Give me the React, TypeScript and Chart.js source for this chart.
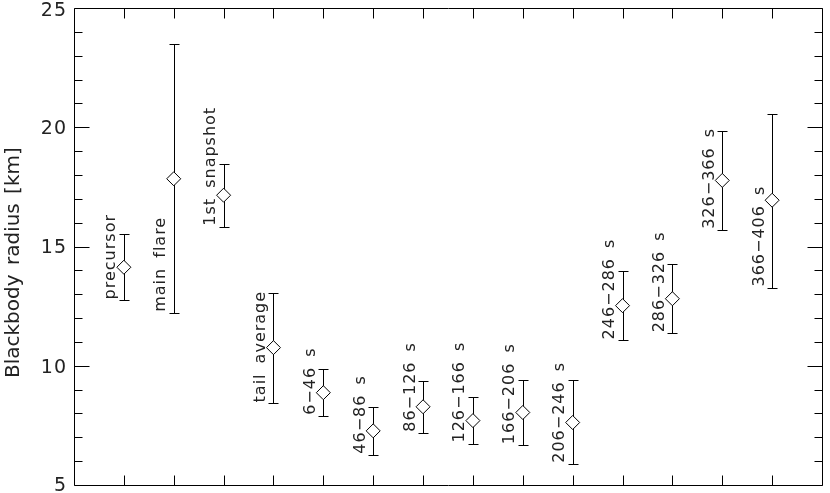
import React, { useEffect, useRef } from 'react';
import { Chart, registerables } from 'chart.js';

Chart.register(...registerables);

// ---- data ----
const intervalLabels = [
  'precursor',
  'main flare',
  '1st snapshot',
  'tail average',
  '6−46 s',
  '46−86 s',
  '86−126 s',
  '126−166 s',
  '166−206 s',
  '206−246 s',
  '246−286 s',
  '286−326 s',
  '326−366 s',
  '366−406 s',
];
const positions = [1, 2, 3, 4, 5, 6, 7, 8, 9, 10, 11, 12, 13, 14];
const radiusKm = [14.13, 17.84, 17.15, 10.76, 8.87, 7.27, 8.28, 7.7, 8.04, 7.62, 12.52, 12.81, 17.77, 16.94];
const upperKm = [15.54, 23.49, 18.45, 13.05, 9.87, 8.28, 9.35, 8.71, 9.42, 9.42, 13.98, 14.27, 19.85, 20.55];
const lowerKm = [12.74, 12.22, 15.83, 8.42, 7.9, 6.27, 7.19, 6.74, 6.67, 5.89, 11.06, 11.36, 15.7, 13.28];

const yMajorTicks = [5, 10, 15, 20, 25];
const yMinorTicks = [6, 7, 8, 9, 11, 12, 13, 14, 16, 17, 18, 19, 21, 22, 23, 24];
const xMajorTicks = [1, 2, 3, 4, 5, 6, 7, 8, 9, 10, 11, 12, 13, 14];
const yTitle = 'Blackbody radius [km]';

const FONT = '"DejaVu Sans", "Liberation Sans", sans-serif';
const INK = '#000';
const TEXT_INK = '#222';

const idlPlugin = {
  id: 'idlFrame',
  beforeDatasetsDraw(chart: any) {
    const { ctx } = chart;
    const x = chart.scales.x;
    const y = chart.scales.y;
    ctx.save();
    ctx.strokeStyle = INK;
    ctx.lineWidth = 1;
    positions.forEach((p, i) => {
      const px = Math.round(x.getPixelForValue(p)) + 0.5;
      const yt = Math.round(y.getPixelForValue(upperKm[i])) + 0.5;
      const yb = Math.round(y.getPixelForValue(lowerKm[i])) + 0.5;
      ctx.beginPath();
      ctx.moveTo(px, yt);
      ctx.lineTo(px, yb);
      ctx.moveTo(px - 5, yt);
      ctx.lineTo(px + 5, yt);
      ctx.moveTo(px - 5, yb);
      ctx.lineTo(px + 5, yb);
      ctx.stroke();
    });
    ctx.restore();
  },
  afterDraw(chart: any) {
    const { ctx, chartArea } = chart;
    const x = chart.scales.x;
    const y = chart.scales.y;
    const L = chartArea.left + 0.5;
    const R = chartArea.right + 0.5;
    const T = chartArea.top + 0.5;
    const B = chartArea.bottom + 0.5;
    ctx.save();
    ctx.strokeStyle = INK;
    ctx.lineWidth = 1;
    ctx.beginPath();
    ctx.rect(L, T, R - L, B - T);
    yMajorTicks.forEach((v) => {
      const py = Math.round(y.getPixelForValue(v)) + 0.5;
      ctx.moveTo(L, py);
      ctx.lineTo(L + 15, py);
      ctx.moveTo(R, py);
      ctx.lineTo(R - 15, py);
    });
    yMinorTicks.forEach((v) => {
      const py = Math.round(y.getPixelForValue(v)) + 0.5;
      ctx.moveTo(L, py);
      ctx.lineTo(L + 8, py);
      ctx.moveTo(R, py);
      ctx.lineTo(R - 8, py);
    });
    xMajorTicks.forEach((v) => {
      const px = Math.round(x.getPixelForValue(v)) + 0.5;
      ctx.moveTo(px, B);
      ctx.lineTo(px, B - 10);
      ctx.moveTo(px, T);
      ctx.lineTo(px, T + 10);
    });
    ctx.stroke();

    // y tick labels
    ctx.fillStyle = TEXT_INK;
    ctx.font = `19px ${FONT}`;
    (ctx as any).letterSpacing = '1px';
    ctx.textAlign = 'right';
    ctx.textBaseline = 'alphabetic';
    yMajorTicks.forEach((v) => {
      const py = y.getPixelForValue(v);
      const c = Math.min(Math.max(py, 9.3), 484);
      ctx.fillText(String(v), 67, c + 6.9);
    });

    // y axis title
    ctx.save();
    ctx.font = `20px ${FONT}`;
    (ctx as any).letterSpacing = '0px';
    (ctx as any).wordSpacing = '3px';
    ctx.textAlign = 'left';
    ctx.translate(18.5, 378);
    ctx.rotate(-Math.PI / 2);
    ctx.fillText(yTitle, 0, 0);
    ctx.restore();

    // point labels, rotated, starting at the lower error bar
    ctx.font = `16px ${FONT}`;
    (ctx as any).letterSpacing = '1px';
    (ctx as any).wordSpacing = '4px';
    ctx.textAlign = 'left';
    positions.forEach((p, i) => {
      const px = x.getPixelForValue(p);
      const yb = y.getPixelForValue(lowerKm[i]);
      ctx.save();
      ctx.translate(px - 8.5, yb - 1);
      ctx.rotate(-Math.PI / 2);
      ctx.fillText(intervalLabels[i], 0, 0);
      ctx.restore();
    });
    ctx.restore();
  },
};

export default function App() {
  const canvasRef = useRef<HTMLCanvasElement | null>(null);

  useEffect(() => {
    document.body.style.margin = '0';
    const canvas = canvasRef.current;
    if (!canvas) return;
    const chart = new Chart(canvas, {
      type: 'scatter',
      data: {
        datasets: [
          {
            label: 'radius',
            data: positions.map((p, i) => ({ x: p, y: radiusKm[i] })),
            pointStyle: 'rectRot',
            pointRadius: 7,
            pointHoverRadius: 7,
            pointBackgroundColor: '#fff',
            pointBorderColor: INK,
            pointBorderWidth: 1,
            showLine: false,
          },
        ],
      },
      options: {
        animation: false,
        responsive: false,
        maintainAspectRatio: false,
        events: [],
        layout: { padding: { left: 74, right: 1, top: 1, bottom: 2 } },
        plugins: {
          legend: { display: false },
          tooltip: { enabled: false },
        },
        scales: {
          x: { type: 'linear', min: 0, max: 15, display: false },
          y: { type: 'linear', min: 5, max: 25, display: false },
        },
      },
      plugins: [idlPlugin],
    });
    return () => chart.destroy();
  }, []);

  return (
    <div style={{ width: 830, height: 493, background: '#fff' }}>
      <canvas ref={canvasRef} width={830} height={493} style={{ display: 'block' }} />
    </div>
  );
}
